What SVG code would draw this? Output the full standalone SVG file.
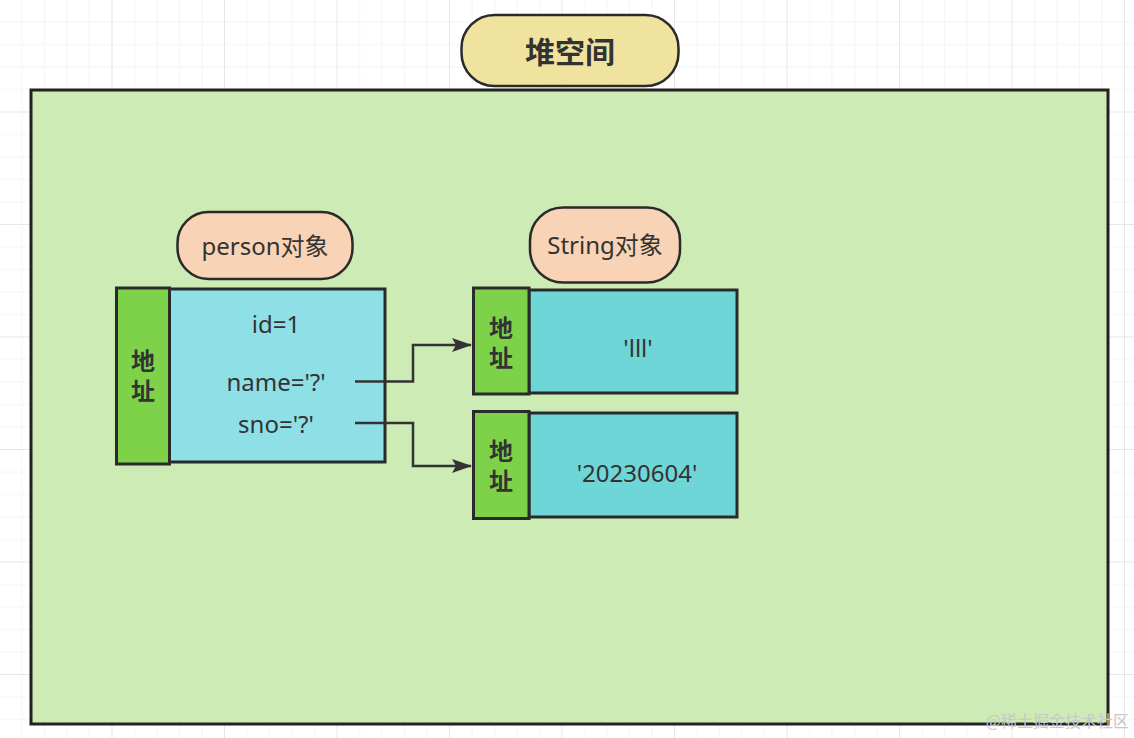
<svg xmlns="http://www.w3.org/2000/svg" width="1134" height="738" viewBox="0 0 1134 738">
  <defs>
    <pattern id="minor" width="22.5" height="22.5" patternUnits="userSpaceOnUse">
      <path d="M22.5 0V22.5M0 22.5H22.5" fill="none" stroke="#ececec" stroke-width="1.2"/>
    </pattern>
    <pattern id="major" width="112.5" height="112.5" patternUnits="userSpaceOnUse">
      <rect width="112.5" height="112.5" fill="url(#minor)"/>
      <path d="M112.5 0V112.5M0 112.5H112.5" fill="none" stroke="#e2e2e2" stroke-width="1.5"/>
    </pattern>
    <marker id="arrow" viewBox="0 0 20 14" refX="19" refY="7" markerWidth="20" markerHeight="14" markerUnits="userSpaceOnUse" orient="auto">
      <path d="M0 0L20 7L0 14L4 7Z" fill="#333"/>
    </marker>
    <style>
      .pill { stroke: #2a2a2a; stroke-width: 2.5; }
      .addr { fill: #7ed24a; stroke: #2a2a2a; stroke-width: 3; }
      .body1 { fill: #8fe0e6; stroke: #2a2a2a; stroke-width: 3; }
      .body2 { fill: #6fd6d8; stroke: #2a2a2a; stroke-width: 3; }
      .t { font-family: "Noto Sans", "Noto Sans CJK SC", sans-serif; font-size: 24px; fill: #333; text-anchor: middle; dominant-baseline: central; }
      .b { font-family: "Noto Sans CJK SC", sans-serif; font-weight: bold; font-size: 24px; fill: #333; text-anchor: middle; }
      .v { writing-mode: vertical-rl; text-orientation: upright; letter-spacing: 6px; }
      .title { font-size: 30px; dominant-baseline: central; }
      .conn { fill: none; stroke: #333; stroke-width: 2.5; }
    </style>
  </defs>
  <rect width="1134" height="738" fill="#ffffff"/>
  <rect width="1134" height="738" fill="url(#major)"/>

  <g id="heap">
    <rect x="31" y="90" width="1077" height="634" fill="#cdebb4" stroke="#222" stroke-width="3"/>
  </g>

  <g id="title">
    <rect class="pill" x="461.5" y="15" width="217" height="71" rx="33" fill="#f0e3a0"/>
    <text class="b title" x="570" y="50">堆空间</text>
  </g>

  <g id="person-label">
    <rect class="pill" x="177.5" y="212" width="175" height="67" rx="31" fill="#f8d3b6"/>
    <text class="t" x="265" y="245">person对象</text>
  </g>

  <g id="person">
    <rect class="body1" x="169" y="289" width="216" height="173"/>
    <rect class="addr" x="116.5" y="288" width="53" height="176"/>
    <text class="b v" x="143" y="379">地址</text>
    <text class="t" x="276" y="323">id=1</text>
    <text class="t" x="276" y="381">name='?'</text>
    <text class="t" x="276" y="423">sno='?'</text>
  </g>

  <g id="string-label">
    <rect class="pill" x="530" y="207.5" width="150" height="75" rx="33" fill="#f8d3b6"/>
    <text class="t" x="605" y="244">String对象</text>
  </g>

  <g id="string1">
    <rect class="body2" x="529" y="290" width="208" height="103"/>
    <rect class="addr" x="473.5" y="288" width="55.5" height="106"/>
    <text class="b v" x="501" y="346">地址</text>
    <text class="t" x="638" y="347">'lll'</text>
  </g>

  <g id="string2">
    <rect class="body2" x="529" y="413" width="208" height="104"/>
    <rect class="addr" x="473.5" y="411.5" width="55.5" height="107"/>
    <text class="b v" x="501" y="469">地址</text>
    <text class="t" x="637" y="472">'20230604'</text>
  </g>

  <g id="connectors">
    <path class="conn" d="M355 381.5H413V345H471" marker-end="url(#arrow)"/>
    <path class="conn" d="M355 423H413V466H471" marker-end="url(#arrow)"/>
  </g>

  <text x="1129" y="720" font-family="Noto Sans CJK SC, sans-serif" font-size="16" fill="#c8c8c8" text-anchor="end" dominant-baseline="central">@稀土掘金技术社区</text>
</svg>
